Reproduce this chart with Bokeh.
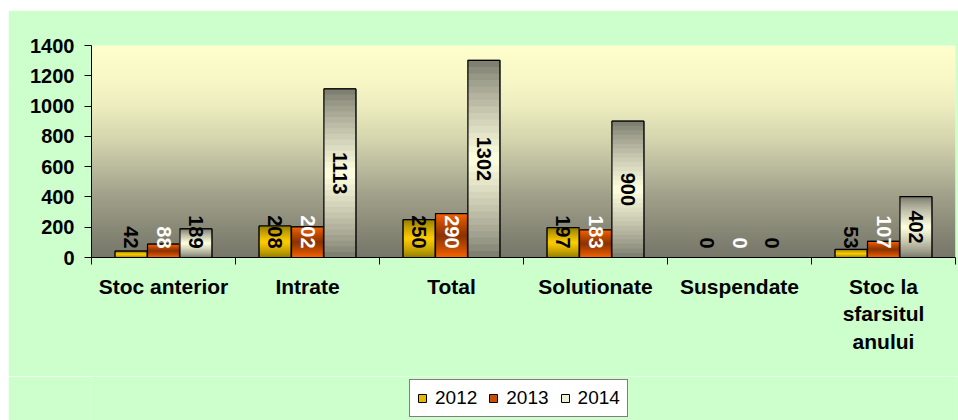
import numpy as np
from math import pi
from bokeh.plotting import figure
from bokeh.layouts import column
from bokeh.models import Range1d, FixedTicker, Legend, LegendItem, ColumnDataSource
from bokeh.core.properties import value
from bokeh.embed import file_html
from bokeh.resources import INLINE

# ---- data ----
categories = ["Stoc anterior", "Intrate", "Total", "Solutionate", "Suspendate",
              "Stoc la\nsfarsitul\nanului"]
years = ["2012", "2013", "2014"]
v2012 = [42, 208, 250, 197, 0, 53]
v2013 = [88, 202, 290, 183, 0, 107]
v2014 = [189, 1113, 1302, 900, 0, 402]
y_ticks = [0, 200, 400, 600, 800, 1000, 1200, 1400]

series = [v2012, v2013, v2014]

# ---- styles ----
FONT = "Liberation Sans"
GREEN = "#CCFFCC"
edge_cols = ["#8C7800", "#FF6600", "#76766A"]
center_cols = ["#FFCC00", "#8B3300", "#FFFFE0"]
base_cols = ["#E8B800", "#C85000", "#EEEED0"]
label_cols = ["black", "white", "black"]
offsets = [-0.225, 0.0, 0.225]
bar_w = 0.222

n = len(categories)
y_max = y_ticks[-1]
FRAME_H = 212


def h2r(h):
    h = h.lstrip("#")
    return np.array([int(h[i:i + 2], 16) for i in (0, 2, 4)], dtype=float)


def r2h(c):
    return "#%02x%02x%02x" % tuple(int(round(v)) for v in c)


p = figure(width=950, height=366, x_range=Range1d(-0.5, n - 0.5), y_range=Range1d(0, y_max),
           output_backend="svg", toolbar_location=None, tools="",
           min_border_left=83, min_border_right=3, min_border_top=35, min_border_bottom=119,
           border_fill_color=GREEN, background_fill_color=GREEN,
           outline_line_color=None)
p.grid.visible = False

# background gradient of plot area
stops_f = [0.0, 1 / 7, 2 / 7, 3 / 7, 4 / 7, 5 / 7, 6 / 7, 1.0]
stops_c = ["#76766A", "#8A8A78", "#A0A08A", "#BCBC9F", "#D8D8B0", "#EDEDC0", "#F9F9C8", "#FFFFCE"]
ny = 300
fr = (np.arange(ny) + 0.5) / ny
rgb = np.stack([np.interp(fr, stops_f, [h2r(c)[k] for c in stops_c]) for k in range(3)], axis=1)
img = np.empty((ny, 1), dtype=np.uint32)
view = img.view(dtype=np.uint8).reshape((ny, 1, 4))
view[:, 0, 0] = rgb[:, 0]
view[:, 0, 1] = rgb[:, 1]
view[:, 0, 2] = rgb[:, 2]
view[:, 0, 3] = 255
p.image_rgba(image=[img], x=-0.5, y=0, dw=n, dh=y_max)

# bars
N = 30
px2data = y_max / FRAME_H
sources = []
for s, vals in enumerate(series):
    xs = [i + offsets[s] for i in range(n)]
    src = ColumnDataSource(dict(x=xs, top=vals))
    sources.append(src)
    p.vbar(x="x", top="top", width=bar_w, bottom=0, source=src,
           fill_color=base_cols[s], line_color="black", line_width=1)
    # gradient strips
    L, R, B, T, C = [], [], [], [], []
    e, c = h2r(edge_cols[s]), h2r(center_cols[s])
    for i, v in enumerate(vals):
        if v <= 0:
            continue
        for k in range(N):
            t = (k + 0.5) / N
            w = (1 - abs(2 * t - 1)) ** 0.8
            L.append(xs[i] - bar_w / 2)
            R.append(xs[i] + bar_w / 2)
            B.append(v * k / N)
            T.append(v)
            C.append(r2h(e + (c - e) * w))
    p.quad(left=L, right=R, bottom=B, top=T, fill_color=C, line_color=None)
    p.vbar(x="x", top="top", width=bar_w, bottom=0, source=src,
           fill_alpha=0, line_color="black", line_width=1.2)
    # value labels (rotated), centred on bar but kept above axis
    ly = []
    for v in vals:
        Lpx = 11.1 * len(str(v))
        ly.append(max(v / 2.0, (9 + Lpx / 2) * px2data))
    lsrc = ColumnDataSource(dict(x=xs, y=ly, text=[str(v) for v in vals]))
    p.text(x="x", y="y", text="text", source=lsrc, angle=-pi / 2,
           text_align="center", text_baseline="middle",
           text_font=value(FONT), text_font_style="bold", text_font_size="20px",
           text_color=label_cols[s])

# axes
xa = p.xaxis[0]
xa.ticker = FixedTicker(ticks=list(range(n)), minor_ticks=[i - 0.5 for i in range(n + 1)])
xa.major_label_overrides = {i: cat for i, cat in enumerate(categories)}
xa.major_tick_out = 0
xa.major_tick_in = 0
xa.minor_tick_out = 7
xa.minor_tick_in = 0
xa.minor_tick_line_color = "black"
xa.axis_line_color = "black"
xa.major_label_standoff = 10
xa.major_label_text_font = FONT
xa.major_label_text_font_style = "bold"
xa.major_label_text_font_size = "21px"
xa.major_label_text_color = "black"

ya = p.yaxis[0]
ya.ticker = FixedTicker(ticks=y_ticks)
ya.major_tick_out = 7
ya.major_tick_in = 0
ya.minor_tick_out = 0
ya.minor_tick_in = 0
ya.axis_line_color = "black"
ya.major_tick_line_color = "black"
ya.major_label_standoff = 10
ya.major_label_text_font = FONT
ya.major_label_text_font_style = "bold"
ya.major_label_text_font_size = "20px"
ya.major_label_text_color = "black"

# legend strip below the chart (legend renderers are hidden copies of the series)
lg = figure(width=950, height=44, x_range=p.x_range, y_range=Range1d(-2, -1),
            output_backend="svg", toolbar_location=None, tools="",
            x_axis_type=None, y_axis_type=None,
            min_border_left=83, min_border_right=3, min_border_top=0, min_border_bottom=0,
            border_fill_color=GREEN, background_fill_color=GREEN, outline_line_color=None)
lg.grid.visible = False
items = []
for s in range(len(years)):
    r = lg.vbar(x="x", top="top", width=bar_w, bottom=0, source=sources[s],
                fill_color=base_cols[s], line_color="black", line_width=1, visible=False)
    items.append(LegendItem(label=years[s], renderers=[r]))
legend = Legend(items=items, orientation="horizontal", location=(318, 3),
                border_line_color="black", border_line_width=1,
                background_fill_color="white", background_fill_alpha=1,
                label_text_font=FONT, label_text_font_size="19px", label_text_color="black",
                glyph_width=10, glyph_height=10, label_standoff=8, spacing=11,
                padding=7, margin=0)
lg.add_layout(legend, "center")

layout = column(p, lg, spacing=0, margin=(10, 0, 0, 8))
open("out.html", "w").write(file_html(layout, INLINE))
